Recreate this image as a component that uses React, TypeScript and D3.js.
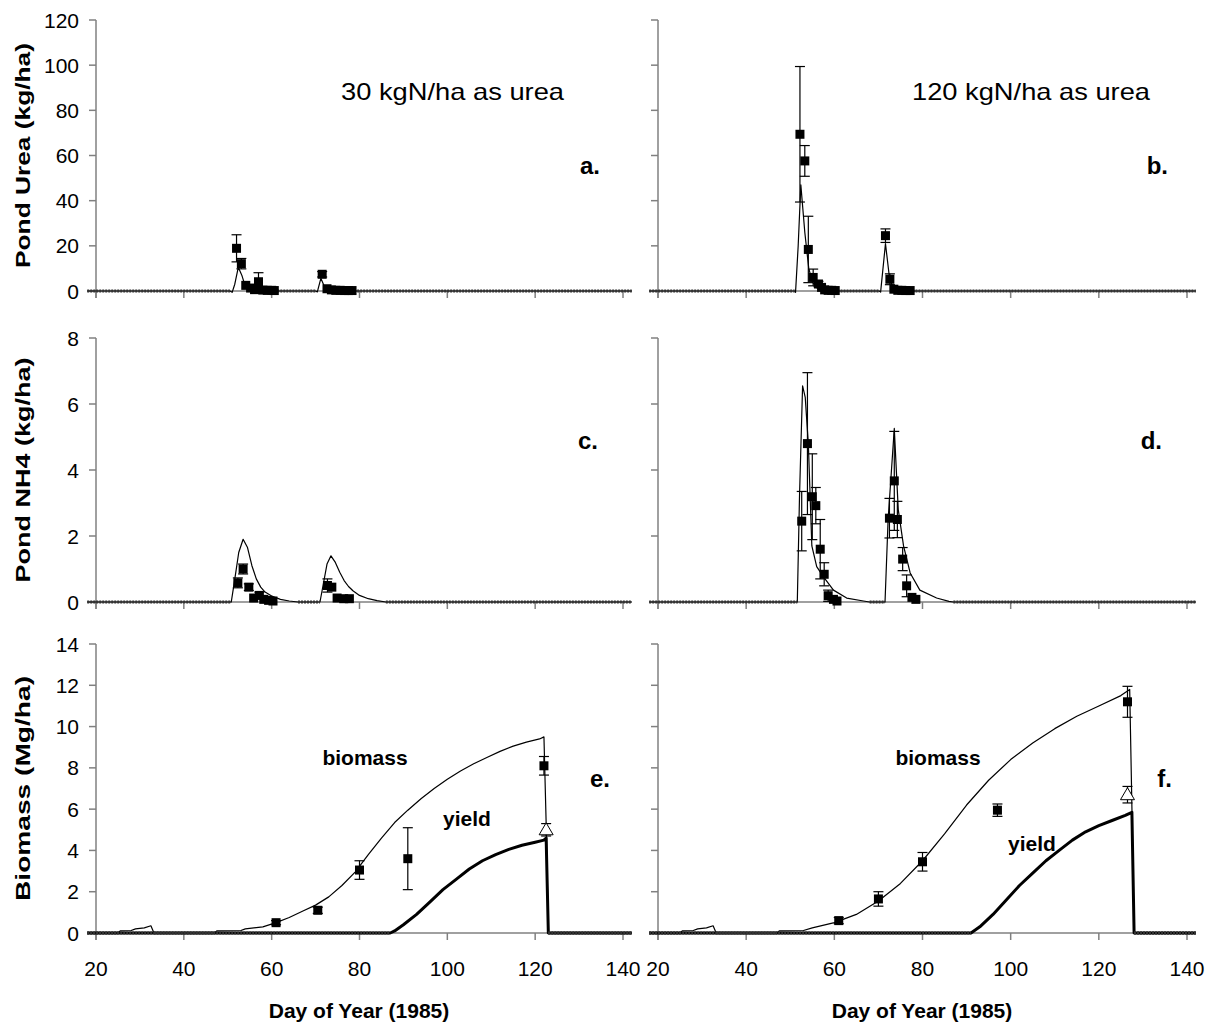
import React from "react";
import * as d3 from "d3";

// x ticks shared by every panel
const dayTicks = [20, 40, 60, 80, 100, 120, 140];
const ureaTicks = [0, 20, 40, 60, 80, 100, 120];
const nh4Ticks = [0, 2, 4, 6, 8];
const massTicks = [0, 2, 4, 6, 8, 10, 12, 14];

// simulated pond urea (kg/ha), [day, value]
const modelUrea30: [number, number][] = [
  [18, 0], [50.5, 0], [51, -0.6], [51.6, 3], [52.4, 10.5], [53.2, 7], [54, 2], [55, 0.4], [56.5, 0],
  [70, 0], [70.4, -0.4], [71.2, 5.6], [72, 2], [72.8, 0.3], [74, 0], [142, 0],
];
const modelUrea120: [number, number][] = [
  [18, 0], [51, 0], [51.2, -0.6], [51.8, 20], [52.4, 47], [53.3, 26], [54.2, 10], [55, 4], [56, 1.5], [57, 0.5], [58, 0],
  [70.2, 0], [70.5, -0.5], [71.6, 21], [72.5, 6], [73.3, 1.2], [74.2, 0.2], [75, 0], [142, 0],
];
// observed pond urea, [day, value, error]
const obsUrea30: [number, number, number][] = [
  [52.0, 18.9, 6], [53.1, 12.1, 2.3], [54.1, 2.5, 0], [55.2, 1.3, 0], [56.1, 0.6, 0], [57.0, 4.1, 4],
  [58.0, 0.4, 0], [59.0, 0.3, 0], [60.0, 0.3, 0], [60.6, 0.2, 0],
  [71.5, 7.4, 1.2], [72.6, 1.0, 0], [73.6, 0.5, 0], [74.6, 0.3, 0], [75.6, 0.3, 0], [76.6, 0.2, 0], [77.5, 0.2, 0], [78.3, 0.2, 0],
];
const obsUrea120: [number, number, number][] = [
  [52.2, 69.4, 30], [53.3, 57.6, 6.8], [54.1, 18.4, 14.7], [55.2, 6.0, 3.7], [56.4, 3.1, 1.2], [57.1, 1.6, 0],
  [57.8, 0.5, 0], [58.6, 0.3, 0], [59.4, 0.3, 0], [60.2, 0.2, 0],
  [71.6, 24.5, 3], [72.6, 5.2, 2.4], [73.5, 0.8, 0], [74.4, 0.3, 0], [75.3, 0.3, 0], [76.2, 0.2, 0], [77.2, 0.2, 0],
];

// simulated pond NH4 (kg/ha)
const modelNh4_30: [number, number][] = [
  [18, 0], [50.8, 0], [51.5, 0.6], [52.5, 1.5], [53.5, 1.9], [54.5, 1.65], [55.5, 1.1], [56.5, 0.7], [57.5, 0.45],
  [58.5, 0.3], [60, 0.18], [62, 0.08], [64, 0.03], [66, 0],
  [71, 0], [71.7, 0.5], [72.6, 1.15], [73.5, 1.4], [74.5, 1.2], [75.5, 0.9], [76.5, 0.65], [77.5, 0.47], [78.5, 0.34],
  [80, 0.2], [82, 0.1], [84, 0.04], [86, 0], [142, 0],
];
const modelNh4_120: [number, number][] = [
  [18, 0], [51.6, 0], [52.1, 3.2], [52.8, 6.55], [53.4, 6.2], [54.1, 4.8], [54.9, 1.7], [56, 1.07], [57.5, 0.77],
  [59.8, 0.36], [62.8, 0.12], [66.6, 0.03], [68, 0],
  [71.5, 0], [72.2, 2.5], [73.6, 5.26], [74.5, 2.8], [75.7, 1.7], [77.2, 0.88], [79.4, 0.36], [83.2, 0.12], [86, 0.02], [87, 0], [142, 0],
];
const obsNh4_30: [number, number, number][] = [
  [52.3, 0.58, 0.15], [53.5, 1.0, 0.15], [54.8, 0.45, 0.1], [55.9, 0.12, 0], [57.2, 0.2, 0.1], [58.2, 0.08, 0],
  [59.3, 0.05, 0], [60.3, 0.03, 0],
  [72.7, 0.5, 0.2], [73.7, 0.45, 0], [74.9, 0.12, 0], [76.4, 0.1, 0], [77.7, 0.1, 0],
];
const obsNh4_120: [number, number, number][] = [
  [52.6, 2.45, 0.9], [53.9, 4.8, 2.15], [55.0, 3.19, 1.3], [55.8, 2.92, 0.55], [56.8, 1.6, 0.9], [57.7, 0.84, 0.35],
  [58.6, 0.19, 0.17], [59.8, 0.08, 0], [60.6, 0.03, 0],
  [72.5, 2.54, 0.6], [73.6, 3.67, 1.5], [74.3, 2.5, 0.55], [75.5, 1.3, 0.35], [76.4, 0.49, 0.33], [77.6, 0.14, 0], [78.5, 0.08, 0],
];

// simulated biomass and grain yield (Mg/ha)
const modelBiomass30: [number, number][] = [
  [18, 0], [25, 0], [25.5, 0.1], [28, 0.12], [29, 0.2], [31, 0.25], [32.5, 0.35], [33.2, 0], [47, 0], [47.5, 0.1],
  [53, 0.12], [54, 0.2], [58, 0.3], [61, 0.5], [64, 0.75], [67, 1.05], [70, 1.35], [73, 1.75], [76, 2.3], [79, 2.95],
  [82, 3.8], [85, 4.6], [88, 5.35], [91, 5.95], [94, 6.5], [97, 7.0], [100, 7.45], [103, 7.85], [106, 8.2], [109, 8.5],
  [112, 8.8], [115, 9.05], [118, 9.25], [121, 9.4], [122, 9.5], [122.6, 4.5], [123, 0], [142, 0],
];
const modelYield30: [number, number][] = [
  [18, 0], [87, 0], [88, 0.1], [90, 0.4], [93, 0.9], [96, 1.5], [99, 2.1], [102, 2.6], [105, 3.1], [108, 3.5],
  [111, 3.8], [114, 4.05], [117, 4.25], [120, 4.4], [122, 4.5], [122.5, 4.6], [123, 0], [142, 0],
];
const modelBiomass120: [number, number][] = [
  [18, 0], [25, 0], [25.5, 0.1], [28, 0.12], [29, 0.2], [31, 0.25], [32.5, 0.35], [33.2, 0], [47, 0], [47.5, 0.1],
  [53, 0.12], [55, 0.25], [60, 0.5], [65, 0.9], [70, 1.55], [75, 2.4], [80, 3.5], [85, 4.8], [90, 6.2], [95, 7.4],
  [100, 8.4], [105, 9.2], [110, 9.9], [115, 10.5], [120, 11.0], [125, 11.5], [127, 11.8], [127.6, 5], [128, 0], [142, 0],
];
const modelYield120: [number, number][] = [
  [18, 0], [91, 0], [93, 0.3], [96, 0.9], [99, 1.6], [102, 2.3], [105, 2.9], [108, 3.5], [111, 4.0], [114, 4.5],
  [117, 4.9], [120, 5.2], [123, 5.45], [126, 5.7], [127, 5.8], [127.5, 5.85], [128, 0], [142, 0],
];
const obsBiomass30: [number, number, number][] = [
  [61, 0.5, 0.1], [70.5, 1.1, 0.15], [80, 3.05, 0.45], [91, 3.6, 1.5], [122, 8.1, 0.45],
];
const obsBiomass120: [number, number, number][] = [
  [61, 0.6, 0.15], [70, 1.65, 0.35], [80, 3.45, 0.45], [97, 5.95, 0.3], [126.5, 11.2, 0.75],
];
const obsYield30: [number, number, number][] = [[122.5, 5.0, 0.3]];
const obsYield120: [number, number, number][] = [[126.5, 6.7, 0.4]];

const FONT = "'Liberation Sans', Arial, Helvetica, sans-serif";
const AXIS = "#808080";

type Model = { data: [number, number][]; width: number };

function zeroRuns(data: [number, number][]) {
  const runs: [number, number][][] = [];
  let cur: [number, number][] = [];
  data.forEach((p) => {
    if (p[1] === 0) cur.push(p);
    else {
      if (cur.length > 1) runs.push(cur);
      cur = [];
    }
  });
  if (cur.length > 1) runs.push(cur);
  return runs;
}

function Panel({
  x0, x1, top, bottom, ticks, models, obs, tri = [], yLabels, xLabels,
  tag, note, title,
}: {
  x0: number; x1: number; top: number; bottom: number; ticks: number[];
  models: Model[]; obs: [number, number, number][]; tri?: [number, number, number][];
  yLabels: boolean; xLabels: boolean; tag: { text: string; x: number; y: number };
  note?: { text: string; x: number; y: number; len: number }; title?: string;
}) {
  const x = d3.scaleLinear().domain([20, 140]).range([x0, x1]);
  const y = d3.scaleLinear().domain([0, ticks[ticks.length - 1]]).range([bottom, top]);
  const line = d3.line<[number, number]>().x((d) => x(d[0])).y((d) => y(d[1]));
  const cap = 5;
  const sq = 9;

  const errBar = (d: [number, number, number], i: number) =>
    d[2] > 0 ? (
      <g key={i} stroke="#000" strokeWidth={1.2}>
        <line x1={x(d[0])} x2={x(d[0])} y1={y(d[1] - d[2])} y2={y(d[1] + d[2])} />
        <line x1={x(d[0]) - cap} x2={x(d[0]) + cap} y1={y(d[1] + d[2])} y2={y(d[1] + d[2])} />
        <line x1={x(d[0]) - cap} x2={x(d[0]) + cap} y1={y(d[1] - d[2])} y2={y(d[1] - d[2])} />
      </g>
    ) : null;

  return (
    <g fontFamily={FONT}>
      {/* axes */}
      <g stroke={AXIS} strokeWidth={1.5}>
        <line x1={x(18)} x2={x(142)} y1={y(0)} y2={y(0)} />
        <line x1={x(20)} x2={x(20)} y1={y(ticks[ticks.length - 1])} y2={y(0) + 7} />
        {ticks.map((t) => (
          <line key={"y" + t} x1={x(20) - 7} x2={x(20)} y1={y(t)} y2={y(t)} />
        ))}
        {dayTicks.map((t) => (
          <line key={"x" + t} x1={x(t)} x2={x(t)} y1={y(0)} y2={y(0) + 7} />
        ))}
      </g>
      {yLabels &&
        ticks.map((t) => (
          <text key={"yl" + t} x={x(20) - 17} y={y(t)} dy="0.36em" textAnchor="end" fontSize={21}>
            {t}
          </text>
        ))}
      {xLabels &&
        dayTicks.map((t) => (
          <text key={"xl" + t} x={x(t)} y={y(0) + 43} textAnchor="middle" fontSize={21}>
            {t}
          </text>
        ))}

      {/* simulated lines */}
      {models.map((m, i) => (
        <path key={"m" + i} d={line(m.data) ?? ""} fill="none" stroke="#000" strokeWidth={m.width} strokeLinejoin="round" />
      ))}
      {models.map((m, i) =>
        zeroRuns(m.data).map((r, j) => (
          <path key={"z" + i + "-" + j} d={line(r) ?? ""} fill="none" stroke="#333" strokeWidth={3} strokeDasharray="2 1" />
        ))
      )}

      {/* observations */}
      {obs.map(errBar)}
      {tri.map(errBar)}
      {obs.map((d, i) => (
        <rect key={"s" + i} x={x(d[0]) - sq / 2} y={y(d[1]) - sq / 2} width={sq} height={sq} fill="#000" />
      ))}
      {tri.map((d, i) => {
        const cx = x(d[0]);
        const cy = y(d[1]);
        return (
          <path key={"t" + i} d={`M${cx},${cy - 7}L${cx + 7},${cy + 5}L${cx - 7},${cy + 5}Z`} fill="#fff" stroke="#000" strokeWidth={1} />
        );
      })}

      <text x={tag.x} y={tag.y} dy="0.36em" textAnchor="end" fontSize={24} fontWeight="bold">
        {tag.text}
      </text>
      {note && (
        <text x={note.x} y={note.y} dy="0.36em" fontSize={24} textLength={note.len} lengthAdjust="spacingAndGlyphs">
          {note.text}
        </text>
      )}
      {title && (
        <text
          transform={`translate(${x(20) - 73},${(top + bottom) / 2}) rotate(-90)`}
          textAnchor="middle"
          dy="0.36em"
          fontSize={20}
          fontWeight="bold"
          textLength={225}
          lengthAdjust="spacingAndGlyphs"
        >
          {title}
        </text>
      )}
    </g>
  );
}

export default function App() {
  const L = { x0: 96, x1: 623 };
  const R = { x0: 658, x1: 1187 };
  const r1 = { top: 20, bottom: 291 };
  const r2 = { top: 338, bottom: 602 };
  const r3 = { top: 644, bottom: 933 };

  return (
    <svg width={1215} height={1026} style={{ position: "absolute", left: 0, top: 0, background: "#fff" }}>
      <rect width={1215} height={1026} fill="#fff" />
      <Panel {...L} {...r1} ticks={ureaTicks} models={[{ data: modelUrea30, width: 1.2 }]} obs={obsUrea30}
        yLabels xLabels={false} tag={{ text: "a.", x: 600, y: 165 }}
        note={{ text: "30 kgN/ha as urea", x: 341, y: 91, len: 223 }} title="Pond Urea (kg/ha)" />
      <Panel {...R} {...r1} ticks={ureaTicks} models={[{ data: modelUrea120, width: 1.2 }]} obs={obsUrea120}
        yLabels={false} xLabels={false} tag={{ text: "b.", x: 1168, y: 165 }}
        note={{ text: "120 kgN/ha as urea", x: 912, y: 91, len: 238 }} />
      <Panel {...L} {...r2} ticks={nh4Ticks} models={[{ data: modelNh4_30, width: 1.2 }]} obs={obsNh4_30}
        yLabels xLabels={false} tag={{ text: "c.", x: 598, y: 440 }} title="Pond NH4 (kg/ha)" />
      <Panel {...R} {...r2} ticks={nh4Ticks} models={[{ data: modelNh4_120, width: 1.2 }]} obs={obsNh4_120}
        yLabels={false} xLabels={false} tag={{ text: "d.", x: 1162, y: 440 }} />
      <Panel {...L} {...r3} ticks={massTicks}
        models={[{ data: modelBiomass30, width: 1.2 }, { data: modelYield30, width: 3 }]}
        obs={obsBiomass30} tri={obsYield30} yLabels xLabels tag={{ text: "e.", x: 610, y: 778 }}
        title="Biomass (Mg/ha)" />
      <Panel {...R} {...r3} ticks={massTicks}
        models={[{ data: modelBiomass120, width: 1.2 }, { data: modelYield120, width: 3 }]}
        obs={obsBiomass120} tri={obsYield120} yLabels={false} xLabels tag={{ text: "f.", x: 1172, y: 778 }} />

      <g fontFamily={FONT} fontWeight="bold" fontSize={21}>
        <text x={365} y={757} dy="0.36em" textAnchor="middle">biomass</text>
        <text x={467} y={818} dy="0.36em" textAnchor="middle">yield</text>
        <text x={938} y={757} dy="0.36em" textAnchor="middle">biomass</text>
        <text x={1032} y={843} dy="0.36em" textAnchor="middle">yield</text>
        <text x={359} y={1010} dy="0.36em" textAnchor="middle">Day of Year (1985)</text>
        <text x={922} y={1010} dy="0.36em" textAnchor="middle">Day of Year (1985)</text>
      </g>
    </svg>
  );
}
